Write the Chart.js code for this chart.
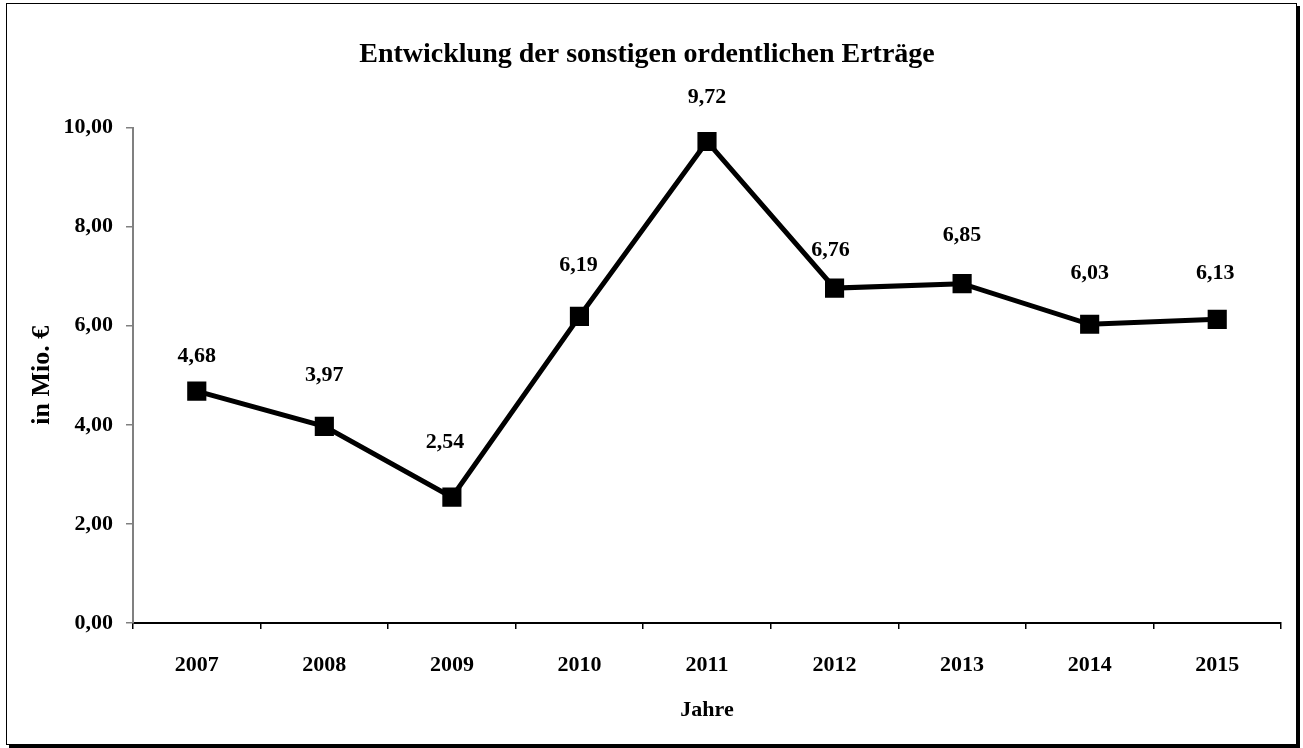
<!DOCTYPE html>
<html>
<head>
<meta charset="utf-8">
<script src="https://cdn.jsdelivr.net/npm/chart.js@4.4.1/dist/chart.umd.min.js"></script>
<style>
  body { margin: 0; background: #fff; }
  #frame {
    position: absolute; left: 6px; top: 3px;
    width: 1291px; height: 742px; box-sizing: border-box;
    border: 1px solid #000; box-shadow: 3px 3px 0 #000; background: #fff;
  }
</style>
</head>
<body>
<div id="frame"><canvas id="myChart"></canvas></div>
<script>
// Jahre und Werte (in Mio. €)
const years = ["2007", "2008", "2009", "2010", "2011", "2012", "2013", "2014", "2015"];
const values = [4.68, 3.97, 2.54, 6.19, 9.72, 6.76, 6.85, 6.03, 6.13];

const SERIF = "'Liberation Serif', 'Times New Roman', serif";
const fmt = (v) => v.toFixed(2).replace(".", ",");

// Werte über den Punkten
const valueLabels = {
  id: "valueLabels",
  afterDatasetsDraw(chart, args, opts) {
    const ctx = chart.ctx;
    const meta = chart.getDatasetMeta(0);
    ctx.save();
    ctx.font = "bold 22px " + SERIF;
    ctx.fillStyle = "#000";
    ctx.textAlign = "center";
    ctx.textBaseline = "middle";
    meta.data.forEach((pt, i) => {
      const off = opts.offsets[i];
      ctx.fillText(fmt(values[i]), pt.x + off[0], pt.y - off[1]);
    });
    ctx.restore();
  },
};

const ctx = document.getElementById("myChart");

const chart = new Chart(ctx, {
  type: "line",
  data: {
    labels: years,
    datasets: [
      {
        data: values,
        borderColor: "#000",
        backgroundColor: "#000",
        borderWidth: 5,
        pointStyle: "rect",
        pointRadius: 10,
        pointHoverRadius: 10,
        tension: 0,
      },
    ],
  },
  options: {
    responsive: true,
    maintainAspectRatio: false,
    animation: false,
    layout: { padding: { left: 0, right: 9, top: 0, bottom: 0 } },
    plugins: {
      legend: { display: false },
      tooltip: { enabled: false },
      title: {
        display: true,
        text: "Entwicklung der sonstigen ordentlichen Erträge",
        color: "#000",
        font: { family: SERIF, size: 28, weight: "bold", lineHeight: 1.2 },
        padding: { top: 34, bottom: 56 },
      },
      valueLabels: {
        offsets: [
          [0, 35], [0, 51], [-7, 55], [-1, 51], [0, 44],
          [-4, 38], [0, 48], [0, 51], [-2, 46],
        ],
      },
    },
    scales: {
      x: {
        offset: true,
        grid: {
          offset: true,
          drawOnChartArea: false,
          drawTicks: true,
          tickLength: 6,
          color: "#000",
          lineWidth: 1.5,
        },
        border: { color: "#000", width: 2 },
        ticks: {
          color: "#000",
          padding: 23,
          font: { family: SERIF, size: 22, weight: "bold" },
        },
        title: {
          display: true,
          text: "Jahre",
          color: "#000",
          font: { family: SERIF, size: 22, weight: "bold", lineHeight: 1.2 },
          padding: { top: 0, bottom: 20 },
        },
        afterFit(scale) {
          scale.height = 121;
        },
      },
      y: {
        min: 0,
        max: 10,
        grid: {
          drawOnChartArea: false,
          drawTicks: true,
          tickLength: 7,
          color: "#808080",
          lineWidth: 1.5,
        },
        border: { color: "#808080", width: 2 },
        ticks: {
          stepSize: 2,
          color: "#000",
          padding: 13,
          font: { family: SERIF, size: 22, weight: "bold" },
          callback: (v) => fmt(v),
        },
        title: {
          display: true,
          text: "in Mio. €",
          color: "#000",
          font: { family: SERIF, size: 26, weight: "bold", lineHeight: 1.2 },
          padding: { top: 20, bottom: 0 },
        },
        afterFit(scale) {
          scale.width = 126;
        },
      },
    },
  },
  plugins: [valueLabels],
});
</script>
</body>
</html>
